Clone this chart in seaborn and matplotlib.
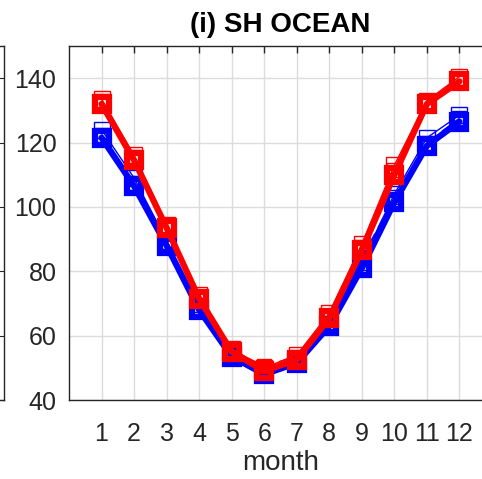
import numpy as np
import pandas as pd
import matplotlib
matplotlib.use("Agg")
import matplotlib.pyplot as plt
import seaborn as sns

months = list(range(1, 13))

# blue ensemble (SH ocean)
blue_thick = [121.5, 106.5, 88.0, 68.0, 53.5, 48.0, 51.5, 63.0, 81.0, 101.5, 119.0, 126.5]
blue_thin = [124.0, 109.0, 89.5, 69.0, 54.0, 49.5, 52.5, 64.5, 83.0, 104.0, 121.5, 128.5]
blue_dash = [122.5, 107.5, 89.0, 69.5, 54.5, 49.0, 52.0, 64.0, 84.0, 103.0, 120.0, 127.5]

# red ensemble
red_thick = [132.0, 114.5, 93.5, 71.5, 55.0, 49.0, 52.5, 65.5, 86.5, 110.0, 132.0, 139.0]
red_thin = [133.5, 116.0, 94.5, 72.5, 56.0, 50.0, 54.0, 67.0, 88.5, 113.0, 133.0, 140.5]
red_dash = [133.0, 115.5, 94.0, 72.0, 55.5, 50.5, 53.5, 66.0, 87.5, 111.5, 132.5, 139.5]

series = {
    "blue_dash": blue_dash, "blue_thin": blue_thin, "blue_thick": blue_thick,
    "red_dash": red_dash, "red_thin": red_thin, "red_thick": red_thick,
}
df = pd.DataFrame([(m, v, k) for k, vals in series.items() for m, v in zip(months, vals)],
                  columns=["month", "value", "run"])

sns.set_style("white")
plt.rcParams['font.family'] = ['Liberation Sans', 'DejaVu Sans']

fig = plt.figure(figsize=(4.82, 4.79), dpi=100)
ax = fig.add_axes([69 / 482, 79 / 479, 423 / 482, 354 / 479])

styles = {
    "thick": dict(linewidth=4.5, linestyle="-", markersize=10, markeredgewidth=4.5),
    "thin": dict(linewidth=1.0, linestyle="-", markersize=11, markeredgewidth=1.0),
    "dash": dict(linewidth=1.2, linestyle=(0, (6, 4)), markersize=10, markeredgewidth=1.0),
}
for run in series:
    col, kind = run.split("_")
    c = "#0000ff" if col == "blue" else "#ff0000"
    st = styles[kind]
    sns.lineplot(data=df[df.run == run], x="month", y="value", ax=ax, color=c,
                 marker="s", markerfacecolor="none", markeredgecolor=c,
                 linewidth=st["linewidth"], linestyle=st["linestyle"],
                 markersize=st["markersize"], markeredgewidth=st["markeredgewidth"],
                 legend=False)

ax.set_xlim(0, 13)
ax.set_ylim(40, 150)
ax.set_xticks(months)
ax.set_yticks([40, 60, 80, 100, 120, 140])
ax.grid(True, color="#dcdcdc", linewidth=1.0)
ax.set_axisbelow(True)
ax.tick_params(direction="in", length=5, width=1, colors="#262626", labelsize=18,
               top=True, right=True)
ax.tick_params(axis="x", pad=16)
ax.tick_params(axis="y", pad=9)
for s in ax.spines.values():
    s.set_color("#262626")
    s.set_linewidth(1.0)
ax.set_xlabel("month", fontsize=20, color="#262626", labelpad=3)
ax.set_ylabel("")
ax.set_title("(i) SH OCEAN", fontsize=20, fontweight="bold", color="black", pad=10)

# edge of neighbouring panel on the left
ax0 = fig.add_axes([-0.5, 79 / 479, 0.5 + 3.5 / 482, 354 / 479])
ax0.set_ylim(40, 150)
ax0.set_xlim(0, 1)
ax0.set_yticks([40, 60, 80, 100, 120, 140])
ax0.set_xticks([])
ax0.tick_params(axis="y", direction="in", length=5, left=False, right=True,
                labelleft=False, colors="#262626")
for s in ax0.spines.values():
    s.set_color("#262626")
    s.set_linewidth(1.0)

fig.savefig("out.png", dpi=100)
